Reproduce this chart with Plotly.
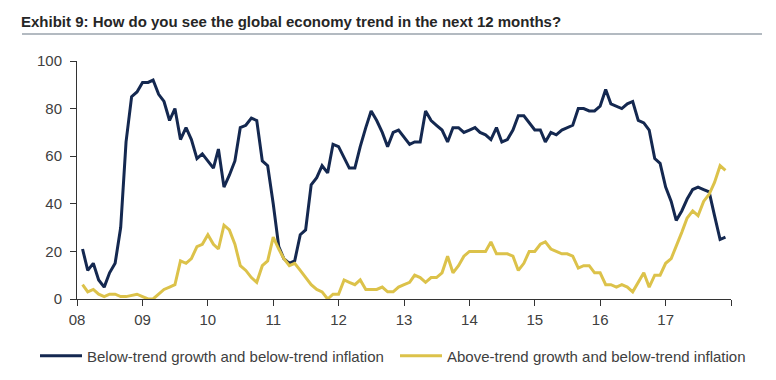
import plotly.graph_objects as go
import pandas as pd

months = pd.date_range("2008-02-01", "2017-12-01", freq="MS")

below_below = [
    21, 12, 15, 8, 5, 11, 15, 30, 66, 85, 87,
    91, 91, 92, 86, 83, 75, 80, 67, 72, 67, 59, 61,
    58, 55, 63, 47, 52, 58, 72, 73, 76, 75, 58, 56,
    40, 22, 17, 15, 16, 27, 29, 48, 51, 56, 53, 65,
    64, 59, 55, 55, 64, 72, 79, 75, 70, 64, 70, 71,
    68, 65, 66, 66, 79, 75, 73, 71, 66, 72, 72, 70,
    71, 72, 70, 69, 67, 72, 66, 67, 71, 77, 77, 74,
    71, 71, 66, 70, 69, 71, 72, 73, 80, 80, 79, 79,
    81, 88, 82, 81, 80, 82, 83, 75, 74, 71, 59, 57,
    47, 41, 33, 37, 42, 46, 47, 46, 45, 35, 25, 26,
]

above_below = [
    6, 3, 4, 2, 1, 2, 2, 1, 1, 1.5, 2,
    1, 0, 0, 2, 4, 5, 6, 16, 15, 17, 22, 23,
    27, 23, 21, 31, 29, 23, 14, 12, 9, 7, 14, 16,
    26, 21, 17, 14, 15, 12, 9, 6, 4, 3, 0, 2,
    2, 8, 7, 6, 8, 4, 4, 4, 5, 3, 3, 5,
    6, 7, 10, 9, 7, 9, 9, 11, 18, 11, 14, 18,
    20, 20, 20, 20, 24, 19, 19, 19, 18, 12, 15, 20,
    20, 23, 24, 21, 20, 19, 19, 18, 13, 14, 14, 11,
    11, 6, 6, 5, 6, 5, 3, 7, 11, 5, 10, 10,
    15, 17, 22, 28, 34, 37, 35, 41, 44, 49, 56, 54,
]

series_names = [
    "Below-trend growth and below-trend inflation",
    "Above-trend growth and below-trend inflation",
]

year_ticks = [f"{y}-01-01" for y in range(2008, 2019)]
year_labels = ["08", "09", "10", "11", "12", "13", "14", "15", "16", "17", ""]
y_ticks = [0, 20, 40, 60, 80, 100]

title_text = "Exhibit 9: How do you see the global economy trend in the next 12 months?"

NAVY = "#142850"
GOLD = "#dcc24a"
FONT = "Liberation Sans, Arial, sans-serif"

# page body has an 8px margin; plot area target in page px: x 77..731, y 61..299
OFF = 8
PX0, PX1, PY0, PY1 = 77, 731, 61, 299
W, H = 776 - OFF, 380 - OFF


def px(x):
    return (x - PX0) / (PX1 - PX0)


def py(y):
    return (PY1 - y) / (PY1 - PY0)


fig = go.Figure()
fig.add_trace(go.Scatter(x=months, y=below_below, mode="lines", name=series_names[0],
                         line=dict(color=NAVY, width=3)))
fig.add_trace(go.Scatter(x=months, y=above_below, mode="lines", name=series_names[1],
                         line=dict(color=GOLD, width=3)))

fig.update_layout(
    width=W, height=H,
    margin=dict(l=PX0 - OFF, r=W - (PX1 - OFF), t=PY0 - OFF, b=H - (PY1 - OFF),
                autoexpand=False),
    paper_bgcolor="white", plot_bgcolor="white",
    font=dict(family=FONT, color="#404040", size=14),
    showlegend=True,
    legend=dict(orientation="h", x=px(35), xanchor="left", y=py(356), yanchor="middle",
                font=dict(size=15, color="#404040"), itemwidth=42, entrywidth=303,
                bgcolor="rgba(0,0,0,0)"),
    xaxis=dict(type="date", range=["2008-01-01", "2018-01-01"], tickvals=year_ticks,
               ticktext=year_labels, ticks="outside", ticklen=6, tickcolor="#333",
               showline=True, linecolor="#333", linewidth=1, showgrid=False, zeroline=False,
               automargin=False, ticklabelstandoff=1, tickfont=dict(size=15, color="#404040")),
    yaxis=dict(range=[0, 100], tickvals=y_ticks, ticks="outside", ticklen=6, tickcolor="#333",
               showline=True, linecolor="#333", linewidth=1, showgrid=False, zeroline=False,
               automargin=False, ticklabelstandoff=5, tickfont=dict(size=15, color="#404040")),
)

fig.add_annotation(text=f"<b>{title_text}</b>", xref="paper", yref="paper",
                   x=px(19), y=py(22), xanchor="left", yanchor="middle",
                   showarrow=False, font=dict(size=15, color="#262626", family=FONT))
fig.add_shape(type="line", xref="paper", yref="paper",
              x0=px(22), x1=px(762), y0=py(34), y1=py(34),
              line=dict(color="#9aa3ad", width=1.5))

fig.write_html("out.html")
